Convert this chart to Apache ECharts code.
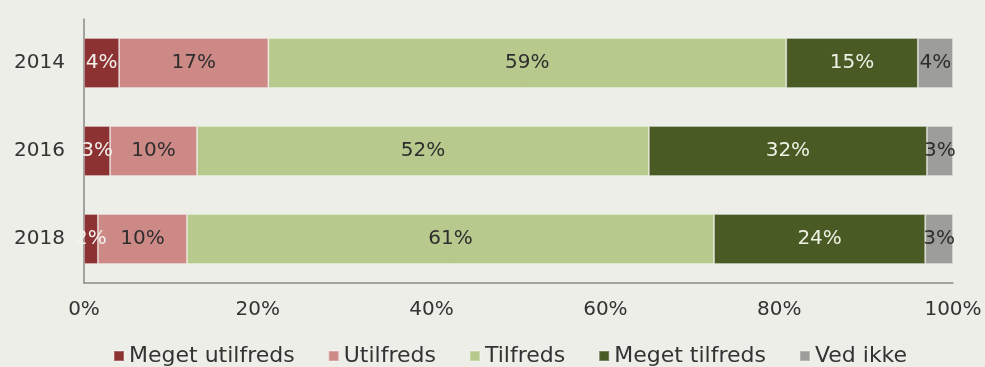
<!DOCTYPE html>
<html>
<head>
<meta charset="utf-8">
<script src="https://cdn.jsdelivr.net/npm/echarts@6/dist/echarts.min.js"></script>
<style>
html,body{margin:0;padding:0;background:#EDEEE8;}
#chart{width:985px;height:367px;}
</style>
</head>
<body>
<div id="chart"></div>
<script>
// Categories (top to bottom)
const years = ['2014', '2016', '2018'];
// Series names
const seriesNames = ['Meget utilfreds', 'Utilfreds', 'Tilfreds', 'Meget tilfreds', 'Ved ikke'];
// Raw values per series (per year); bars are shown as share of each year's total
const megetUtilfreds = [4, 3, 1.6];
const utilfreds = [17, 10, 10.25];
const tilfreds = [59, 52, 60.65];
const megetTilfreds = [15, 32, 24.3];
const vedIkke = [4, 3, 3.2];
// Axis tick values
const xTicks = [0, 20, 40, 60, 80, 100];

const rawSeries = [megetUtilfreds, utilfreds, tilfreds, megetTilfreds, vedIkke];
const colors = ['#8C3232', '#CD8985', '#B8C98E', '#4A5A24', '#9D9D99'];
const labelColors = ['#F4F0EC', '#2E2E2E', '#2E2E2E', '#EEF0E4', '#2E2E2E'];

const totals = years.map((_, i) => rawSeries.reduce((s, arr) => s + arr[i], 0));

const FONT = 'DejaVu Sans';

const series = rawSeries.map((arr, k) => ({
  name: seriesNames[k],
  type: 'bar',
  stack: 'all',
  barWidth: 50,
  itemStyle: { color: colors[k], borderColor: 'rgba(255,255,255,0.25)', borderWidth: 1 },
  label: {
    show: true,
    position: 'inside',
    fontFamily: FONT,
    fontSize: 20,
    color: labelColors[k],
    formatter: p => Math.round(p.data.raw) + '%'
  },
  data: arr.map((v, i) => ({ value: v / totals[i] * 100, raw: v }))
}));

const chart = echarts.init(document.getElementById('chart'));
chart.setOption({
  backgroundColor: '#EDEEE8',
  animation: false,
  color: colors,
  grid: { left: 84, right: 32, top: 19, bottom: 84 },
  legend: {
    bottom: -5,
    left: 108,
    itemWidth: 10,
    itemHeight: 10,
    itemGap: 33,
    icon: 'rect',
    textStyle: { fontFamily: FONT, fontSize: 22, color: '#333333' },
    data: seriesNames
  },
  xAxis: {
    type: 'value',
    min: xTicks[0],
    max: xTicks[xTicks.length - 1],
    interval: xTicks[1] - xTicks[0],
    axisLine: { show: true, lineStyle: { color: '#8A8A88', width: 1.5 } },
    axisTick: { show: false },
    splitLine: { show: false },
    axisLabel: {
      fontFamily: FONT, fontSize: 20, color: '#333333', margin: 17,
      formatter: '{value}%'
    }
  },
  yAxis: {
    type: 'category',
    data: years,
    inverse: true,
    axisLine: { show: true, lineStyle: { color: '#8A8A88', width: 1.5 } },
    axisTick: { show: false },
    axisLabel: { fontFamily: FONT, fontSize: 20, color: '#333333', margin: 19 }
  },
  series: series
});
</script>
</body>
</html>
